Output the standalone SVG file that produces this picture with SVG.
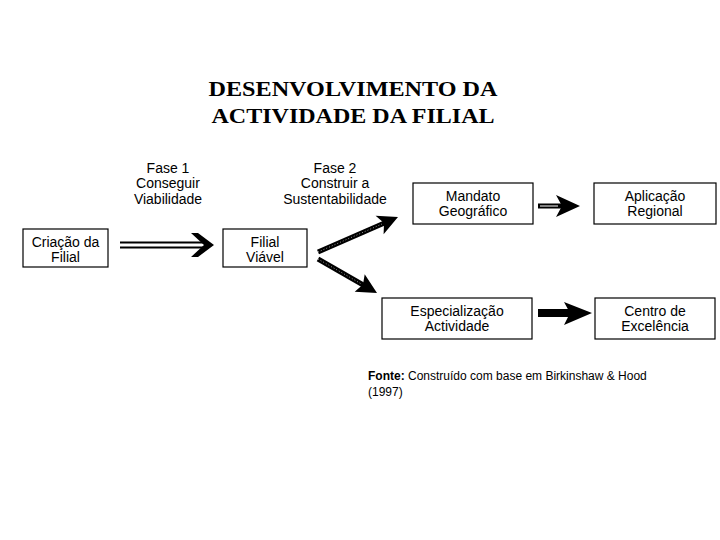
<svg xmlns="http://www.w3.org/2000/svg" width="720" height="540" viewBox="0 0 720 540">
<style>
.box{fill:#fff;stroke:#000;stroke-width:1.2}
.t{font-family:"Liberation Sans",Arial,sans-serif;font-size:14px;fill:#000;text-anchor:middle}
.title{font-family:"Liberation Serif","Times New Roman",serif;font-size:22px;font-weight:bold;fill:#000;text-anchor:middle}
.src{font-family:"Liberation Sans",Arial,sans-serif;font-size:12px;fill:#000}
.head{fill:#000}
</style>
<rect width="720" height="540" fill="#fff"/>
<g id="title">
<text class="title" x="353" y="96" textLength="289" lengthAdjust="spacingAndGlyphs">DESENVOLVIMENTO DA</text>
<text class="title" x="353" y="123" textLength="283" lengthAdjust="spacingAndGlyphs">ACTIVIDADE DA FILIAL</text>
</g>
<g id="fase1">
<text class="t" x="168" y="173">Fase 1</text>
<text class="t" x="168" y="188">Conseguir</text>
<text class="t" x="168" y="204">Viabilidade</text>
</g>
<g id="fase2">
<text class="t" x="335" y="173">Fase 2</text>
<text class="t" x="335" y="188">Construir a</text>
<text class="t" x="335" y="204">Sustentabilidade</text>
</g>
<g id="criacao">
<rect class="box" x="23" y="229" width="85" height="38"/>
<text class="t" x="65.5" y="247">Criação da</text>
<text class="t" x="65.5" y="262">Filial</text>
</g>
<g id="filial-viavel">
<rect class="box" x="223" y="229" width="84" height="38"/>
<text class="t" x="265" y="247">Filial</text>
<text class="t" x="265" y="262">Viável</text>
</g>
<g id="mandato">
<rect class="box" x="413" y="183" width="120" height="41"/>
<text class="t" x="473" y="201">Mandato</text>
<text class="t" x="473" y="216">Geográfico</text>
</g>
<g id="aplicacao">
<rect class="box" x="594" y="183" width="122" height="41"/>
<text class="t" x="655" y="201">Aplicação</text>
<text class="t" x="655" y="216">Regional</text>
</g>
<g id="especializacao">
<rect class="box" x="382" y="298" width="150" height="41"/>
<text class="t" x="457" y="316">Especialização</text>
<text class="t" x="457" y="331">Actividade</text>
</g>
<g id="centro">
<rect class="box" x="595" y="298" width="120" height="41"/>
<text class="t" x="655" y="316">Centro de</text>
<text class="t" x="655" y="331">Excelência</text>
</g>
<g id="connectors">
<!-- double arrow Criação -> Filial Viável -->
<line x1="120" y1="242.5" x2="204" y2="242.5" stroke="#000" stroke-width="2"/>
<line x1="120" y1="247.5" x2="204" y2="247.5" stroke="#000" stroke-width="2"/>
<polygon class="head" points="191,233 198,233 214,245 198,257 191,257 204,245"/>
<!-- diagonal up -->
<line x1="318" y1="252" x2="385" y2="222.7" stroke="#000" stroke-width="5"/>
<line x1="318" y1="252" x2="382" y2="224" stroke="#fff" stroke-width="1" stroke-dasharray="1 2" opacity="0.6"/>
<polygon class="head" points="398,217 375.6,215.8 384,223 383.6,234.2"/>
<!-- diagonal down -->
<line x1="318" y1="259" x2="365" y2="286" stroke="#000" stroke-width="5"/>
<line x1="318" y1="259" x2="362" y2="284.3" stroke="#fff" stroke-width="1" stroke-dasharray="1 2" opacity="0.6"/>
<polygon class="head" points="377,293 354.7,291.7 363,284.5 364.7,274.3"/>
<!-- Mandato -> Aplicação -->
<rect x="538" y="203.5" width="25" height="5" fill="#000"/>
<line x1="540" y1="206" x2="558" y2="206" stroke="#fff" stroke-width="1"/>
<polygon class="head" points="556,195 580,206 556,217 562,206"/>
<!-- Especialização -> Centro -->
<rect x="538" y="309" width="34" height="8" fill="#000"/>
<polygon class="head" points="564,302 592,313 564,325 570,313"/>
</g>
<g id="fonte">
<text class="src" x="368" y="380"><tspan font-weight="bold">Fonte:</tspan> Construído com base em Birkinshaw &amp; Hood</text>
<text class="src" x="368" y="396">(1997)</text>
</g>
</svg>
